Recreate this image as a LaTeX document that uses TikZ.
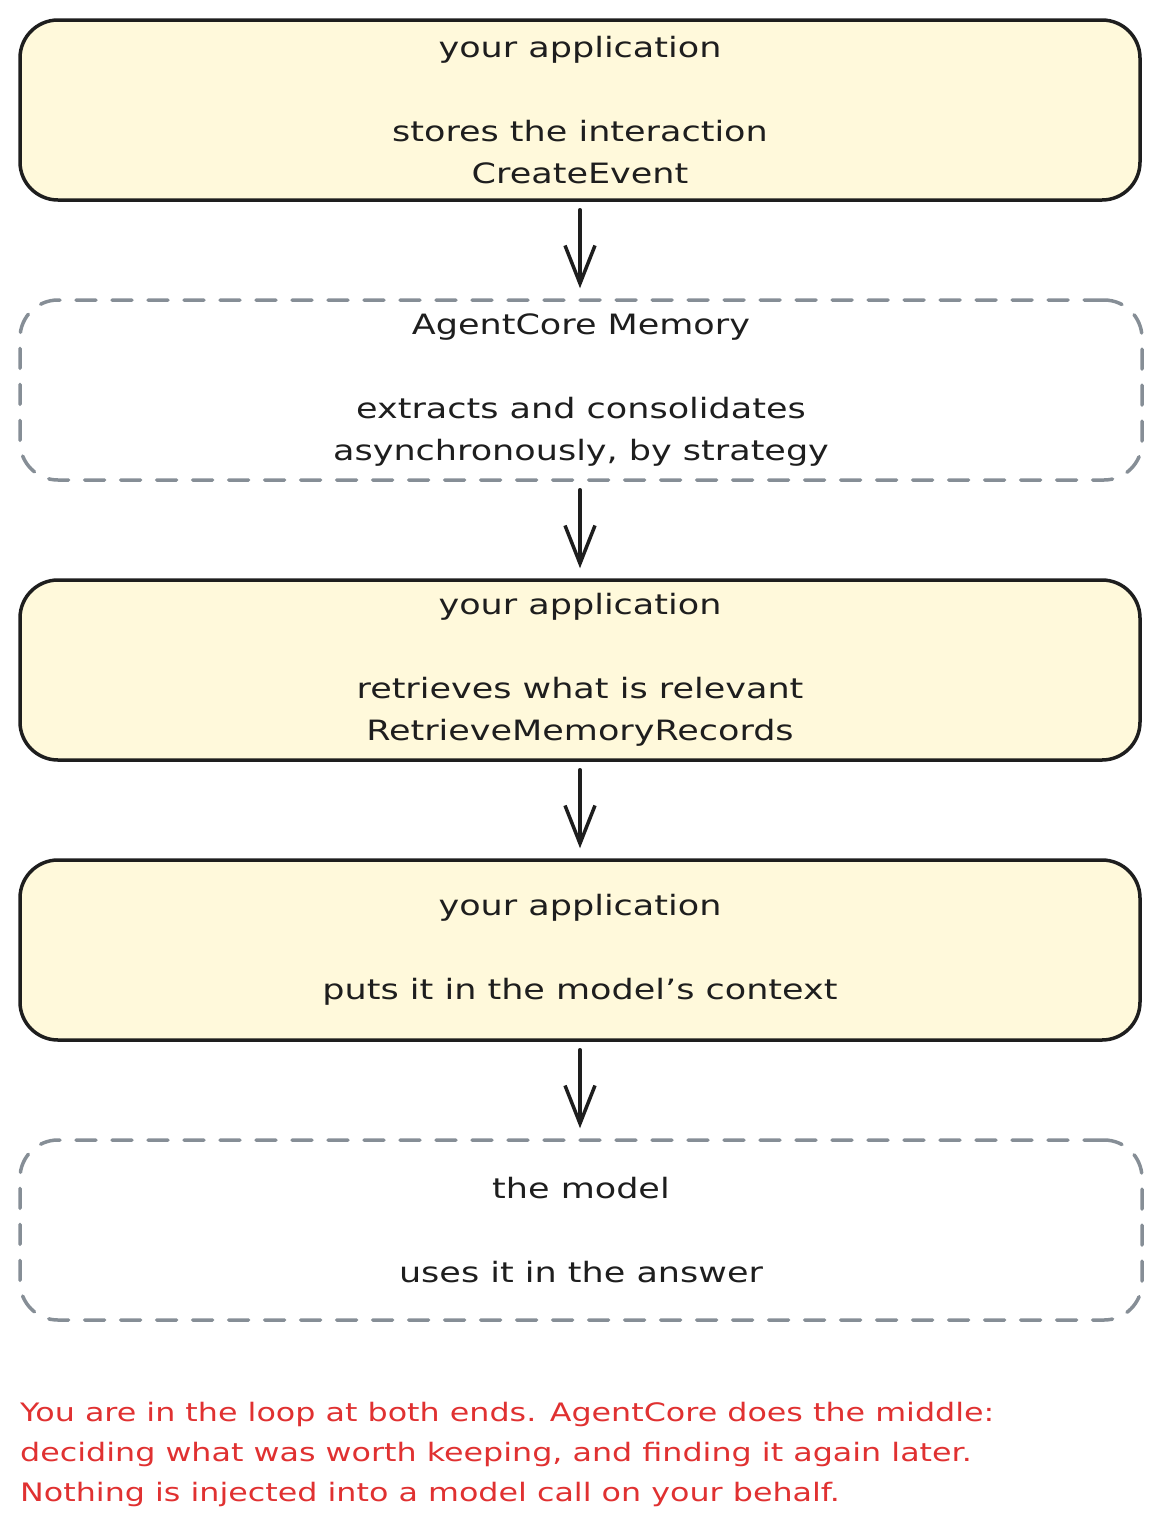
\documentclass[tikz,border=0pt]{standalone}
\usepackage{fontspec}
\setmainfont{DejaVu Sans}
\newfontfamily\handfont[FakeStretch=1.25]{DejaVu Sans}
\usetikzlibrary{arrows.meta}
\definecolor{ink}{HTML}{1E1E1E}
\definecolor{paleyellow}{HTML}{FFF9DB}
\definecolor{dashgray}{HTML}{868E96}
\definecolor{notered}{HTML}{E03131}
\tikzset{
  appbox/.style={draw=ink, fill=paleyellow, line width=3.5pt, rounded corners=38pt,
    minimum width=1120pt, minimum height=180pt, align=center, inner sep=0pt,
    font=\handfont\fontsize{28}{42}\selectfont, text=ink},
  extbox/.style={draw=dashgray, line width=3.5pt, rounded corners=38pt,
    dash pattern=on 20pt off 16pt, line cap=round,
    minimum width=1122pt, minimum height=180pt, align=center, inner sep=0pt,
    font=\handfont\fontsize{28}{42}\selectfont, text=ink},
  flow/.style={draw=ink, line width=3.5pt, line cap=round,
    -{Straight Barb[length=38pt,width=30pt,line width=3.5pt]},
    shorten <=8pt, shorten >=10pt},
  note/.style={text=notered, align=left, anchor=north west, inner sep=0pt,
    font=\handfont\fontsize{25.4}{40}\selectfont}
}
\begin{document}
\begin{tikzpicture}[x=1pt,y=-1pt]
\useasboundingbox (0,0) rectangle (1160,1540);
\node[appbox] (b1) at (580,110) {your application\\[42pt]stores the interaction\\CreateEvent};
\node[extbox] (b2) at (581,390) {AgentCore Memory\\[42pt]extracts and consolidates\\asynchronously, by strategy};
\node[appbox] (b3) at (580,670) {your application\\[42pt]retrieves what is relevant\\RetrieveMemoryRecords};
\node[appbox] (b4) at (580,950) {your application\\[42pt]puts it in the model’s context};
\node[extbox] (b5) at (581,1230) {the model\\[42pt]uses it in the answer};
\draw[flow] (b1.south -| 580,0) -- (b2.north -| 580,0);
\draw[flow] (b2.south -| 580,0) -- (b3.north -| 580,0);
\draw[flow] (b3.south -| 580,0) -- (b4.north -| 580,0);
\draw[flow] (b4.south -| 580,0) -- (b5.north -| 580,0);
\node[note] (n) at (20,1402) {You are in the loop at both ends. AgentCore does the middle:\\deciding what was worth keeping, and finding it again later.\\Nothing is injected into a model call on your behalf.};
\end{tikzpicture}
\end{document}
